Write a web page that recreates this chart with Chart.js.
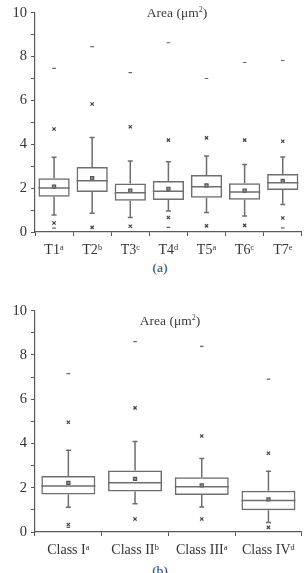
<!DOCTYPE html>
<html>
<head>
<meta charset="utf-8">
<script src="https://cdn.jsdelivr.net/npm/chart.js@4"></script>
<style>
  body { margin: 0; background: #fff; width: 307px; height: 573px; overflow: hidden; position: relative; font-family: "Liberation Serif", serif; color: #3a3a3a; }
  canvas { position: absolute; left: 0; }
  .lbl { position: absolute; font-size: 13.5px; white-space: nowrap; transform: translate(-50%, -50%); }
</style>
</head>
<body>
<canvas id="chartA" width="307" height="260" style="top:0"></canvas>
<canvas id="chartB" width="307" height="262" style="top:298px"></canvas>
<div class="lbl" style="left:177px; top:13px">Area (μm<sup style="font-size:8px">2</sup>)</div>
<div class="lbl" style="left:160px; top:268px">(a)</div>
<div class="lbl" style="left:170px; top:321px">Area (μm<sup style="font-size:8px">2</sup>)</div>
<div class="lbl" style="left:160px; top:571px">(b)</div>
<script>
// (a) treatments
const treatLabels = ["T1ᵃ", "T2ᵇ", "T3ᶜ", "T4ᵈ", "T5ᵃ", "T6ᶜ", "T7ᵉ"];
const treatQ1      = [1.61, 1.82, 1.43, 1.46, 1.56, 1.47, 1.91];
const treatQ3      = [2.45, 2.96, 2.21, 2.33, 2.60, 2.22, 2.64];
const treatMedian  = [2.01, 2.34, 1.79, 1.86, 2.06, 1.82, 2.25];
const treatMean    = [2.07, 2.45, 1.88, 1.97, 2.12, 1.88, 2.33];
const treatWhiskLo = [0.77, 0.86, 0.66, 0.96, 0.89, 0.73, 1.25];
const treatWhiskHi = [3.41, 4.31, 3.24, 3.20, 3.47, 3.08, 3.42];
const treatP1      = [0.41, 0.21, 0.26, 0.66, 0.28, 0.30, 0.64];
const treatP99     = [4.70, 5.84, 4.80, 4.19, 4.29, 4.19, 4.14];
const treatMin     = [0.18, null, null, 0.21, null, null, 0.19];
const treatMax     = [7.46, 8.45, 7.27, 8.63, 7.00, 7.73, 7.82];

// (b) classes
const classLabels  = ["Class Iᵃ", "Class IIᵇ", "Class IIIᵃ", "Class IVᵈ"];
const classQ1      = [1.70, 1.83, 1.67, 0.98];
const classQ3      = [2.53, 2.78, 2.47, 1.86];
const classMedian  = [2.08, 2.23, 2.04, 1.42];
const classMean    = [2.22, 2.40, 2.11, 1.47];
const classWhiskLo = [1.12, 1.28, 1.13, 0.43];
const classWhiskHi = [3.69, 4.09, 3.32, 2.75];
const classP1      = [0.34, 0.59, 0.59, 0.21];
const classP99     = [4.96, 5.61, 4.34, 3.56];
const classMin     = [0.21, null, null, null];
const classMax     = [7.16, 8.60, 8.39, 6.91];

const yTicks = [0, 2, 4, 6, 8, 10];

const lineCol = "#6e6e6e";
const axisCol = "#5a5a5a";
const textCol = "#333";
const serif = "'Liberation Serif', 'Times New Roman', serif";

// draws median lines and whiskers using the bar elements and the y scale
const boxExtras = {
  id: "boxExtras",
  afterDatasetsDraw(chart, args, opts) {
    const ctx = chart.ctx;
    const y = chart.scales.y;
    const meta = chart.getDatasetMeta(0);
    ctx.save();
    ctx.strokeStyle = lineCol;
    ctx.lineWidth = 1.5;
    meta.data.forEach((bar, i) => {
      const x = bar.x;
      const hw = bar.width / 2;
      const ym = y.getPixelForValue(opts.median[i]);
      const yq1 = y.getPixelForValue(opts.q1[i]);
      const yq3 = y.getPixelForValue(opts.q3[i]);
      const ylo = y.getPixelForValue(opts.lo[i]);
      const yhi = y.getPixelForValue(opts.hi[i]);
      ctx.beginPath();
      ctx.moveTo(x - hw, ym); ctx.lineTo(x + hw, ym);
      ctx.moveTo(x, yq3); ctx.lineTo(x, yhi);
      ctx.moveTo(x - 2.5, yhi); ctx.lineTo(x + 2.5, yhi);
      ctx.moveTo(x, yq1); ctx.lineTo(x, ylo);
      ctx.moveTo(x - 2.5, ylo); ctx.lineTo(x + 2.5, ylo);
      ctx.stroke();
    });
    ctx.restore();
  }
};

function makeBoxChart(id, labels, q1, q3, median, mean, lo, hi, p1, p99, mins, maxs, barPct) {
  const boxes = q1.map((v, i) => [v, q3[i]]);
  const markers = (data, style, r, col) => ({
    type: "line", data: data, showLine: false,
    pointStyle: style, pointRadius: r, pointBorderColor: col,
    pointBackgroundColor: col, pointBorderWidth: 1.2
  });
  return new Chart(document.getElementById(id), {
    type: "bar",
    data: {
      labels: labels,
      datasets: [
        {
          data: boxes,
          backgroundColor: "rgba(0,0,0,0)",
          borderColor: lineCol,
          borderWidth: 1.5,
          borderSkipped: false,
          barPercentage: barPct,
          categoryPercentage: 1
        },
        { ...markers(mean, "rect", 2.2, "#555"), pointBackgroundColor: "#999" },
        markers(p1, "crossRot", 2.3, "#444"),
        markers(p99, "crossRot", 2.3, "#444"),
        markers(mins, "line", 1.8, "#666"),
        markers(maxs, "line", 1.8, "#666")
      ]
    },
    options: {
      responsive: false,
      animation: false,
      layout: { padding: { top: 10, right: 0, left: 0, bottom: 0 } },
      plugins: {
        legend: { display: false },
        tooltip: { enabled: false },
        boxExtras: { q1: q1, q3: q3, median: median, lo: lo, hi: hi }
      },
      scales: {
        x: {
          afterFit: (s) => { s.height = 28; },
          grid: { display: true, drawOnChartArea: false, tickLength: 4, color: axisCol },
          border: { color: axisCol, width: 1.2 },
          ticks: { color: textCol, padding: 6, font: { family: serif, size: 14 } }
        },
        y: {
          min: 0, max: 10,
          afterFit: (s) => { s.width = 35; },
          grid: { display: true, drawOnChartArea: false, tickLength: 4, color: axisCol },
          border: { color: axisCol, width: 1.2 },
          ticks: {
            stepSize: 1,
            color: textCol,
            padding: 4,
            autoSkip: false,
            font: { family: serif, size: 14.5 },
            callback: (v) => yTicks.includes(v) ? v : ""
          }
        }
      }
    },
    plugins: [boxExtras]
  });
}

makeBoxChart("chartA", treatLabels, treatQ1, treatQ3, treatMedian, treatMean,
  treatWhiskLo, treatWhiskHi, treatP1, treatP99, treatMin, treatMax, 0.82);
makeBoxChart("chartB", classLabels, classQ1, classQ3, classMedian, classMean,
  classWhiskLo, classWhiskHi, classP1, classP99, classMin, classMax, 0.81);
</script>
</body>
</html>
